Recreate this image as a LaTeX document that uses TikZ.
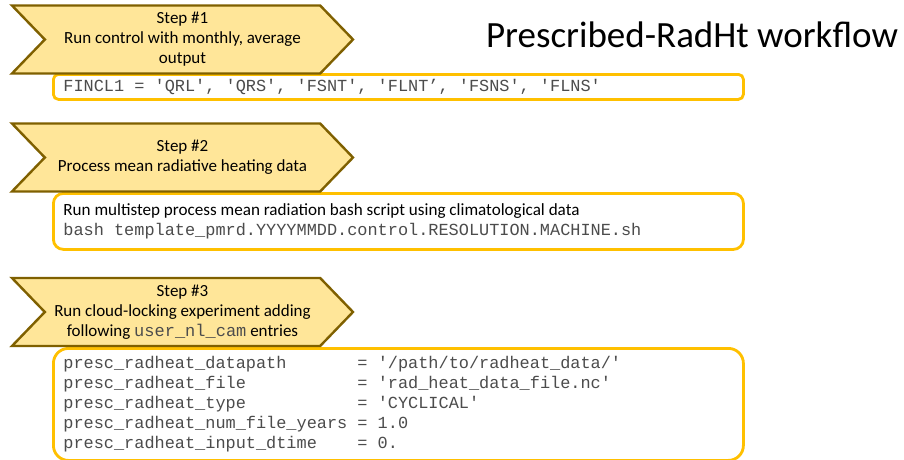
\documentclass[tikz,border=0pt]{standalone}
\usepackage{fontspec}
\setmainfont{Carlito}
\setmonofont{Liberation Mono}
\usetikzlibrary{shapes.symbols,positioning}
\definecolor{stepfill}{HTML}{FFE699}
\definecolor{stepline}{HTML}{7F6000}
\definecolor{codeline}{HTML}{FFC000}

\begin{document}
\begin{tikzpicture}
  [
    x=1pt, y=-1pt,
    Step/.style={signal, signal to=east, signal from=west, signal pointer angle=92, draw=stepline, fill=stepfill, line width=2.4pt, minimum width=341pt, minimum height=68pt, inner sep=0pt, align=center, font=\fontsize{17}{20}\selectfont, execute at begin node={\spaceskip=0pt\xspaceskip=0pt}},
    Code/.style={rectangle, draw=codeline, line width=2.8pt, fill=white, anchor=north west, text width=670pt, inner xsep=10pt, inner ysep=0pt, align=left, text=black!70, font=\fontsize{16.9}{20}\selectfont\ttfamily, execute at begin node={\spaceskip=0.6em\xspaceskip=0.6em}},
    Title/.style={font=\fontsize{37}{44}\selectfont}
  ]
  \useasboundingbox (0,0) rectangle (904,460);
  % Title
  \node[Title] (title) at (692,35) {Prescribed-RadHt workflow};
  % Code boxes
  \node[Code, rounded corners=5pt, minimum height=25pt] (c1) at (52,73) {FINCL1 = 'QRL', 'QRS', 'FSNT', 'FLNT’, 'FSNS', 'FLNS'};
  \node[Code, rounded corners=10pt, minimum height=56pt] (c2) at (52,192)
    {{\rmfamily\fontsize{17.1}{20}\selectfont\color{black}\spaceskip=0pt\xspaceskip=0pt Run multistep process mean radiation bash script using climatological data}\\
     bash template\_pmrd.YYYYMMDD.control.RESOLUTION.MACHINE.sh};
  \node[Code, rounded corners=15pt, minimum height=112pt] (c3) at (52,347)
    {presc\_radheat\_datapath~~~~~~~= '/path/to/radheat\_data/'\\
     presc\_radheat\_file~~~~~~~~~~~= 'rad\_heat\_data\_file.nc'\\
     presc\_radheat\_type~~~~~~~~~~~= 'CYCLICAL'\\
     presc\_radheat\_num\_file\_years = 1.0\\
     presc\_radheat\_input\_dtime~~~~= 0.};
  % Steps
  \node[Step] (s1) at (182.5,39.5) {Step \#1\\Run control with monthly, average\\output};
  \node[Step] (s2) at (182.5,157.5) {Step \#2\\Process mean radiative heating data};
  \node[Step] (s3) at (182.5,312) {Step \#3\\Run cloud-locking experiment adding\\following {\ttfamily\color{black!70}user\_nl\_cam} entries};
\end{tikzpicture}
\end{document}
